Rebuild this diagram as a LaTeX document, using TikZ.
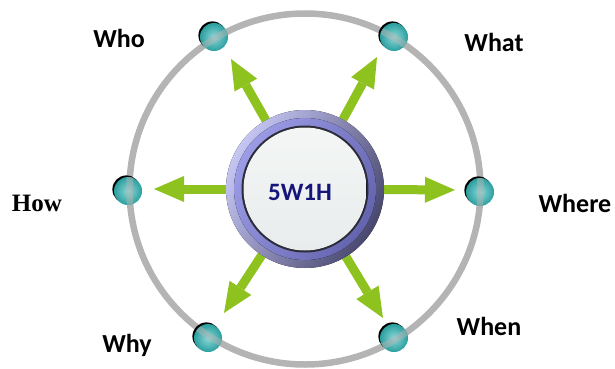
\documentclass[tikz,border=0pt]{standalone}
\usepackage{fontspec}
\setmainfont{Carlito}
\newfontfamily\serifbold{Liberation Serif}
\usetikzlibrary{arrows.meta}
\definecolor{arrowgreen}{HTML}{8DC21F}
\definecolor{ringgray}{HTML}{B4B4B4}
\definecolor{dotlight}{HTML}{8ED8D8}
\definecolor{dotdark}{HTML}{2A9E9E}
\definecolor{knoblight}{HTML}{C6C6F4}
\definecolor{knobdark}{HTML}{48486F}
\definecolor{bandlight}{HTML}{9C9CE6}
\definecolor{banddark}{HTML}{6464AE}
\definecolor{rimdark}{HTML}{2B2B3A}
\definecolor{navytext}{HTML}{16167A}
\definecolor{btntop}{HTML}{F4F6F6}
\definecolor{btnmid}{HTML}{DADFDF}
\definecolor{btnbot}{HTML}{E9ECEC}
\tikzset{
  knobnode/.style={circle, inner sep=0pt, minimum size=158pt},
  dotnode/.style={circle, inner sep=0pt, minimum size=28pt,
    inner color=dotlight, outer color=dotdark,
    preaction={fill=black, transform canvas={shift={(-1.6pt,1.6pt)}}}},
  garrow/.style={arrowgreen, line width=9pt,
    -{Triangle[width=26pt,length=30pt,line width=0pt]}},
  lbl/.style={anchor=base, inner sep=0pt, font=\fontsize{26}{26}\selectfont\bfseries},
}
\begin{document}
\begin{tikzpicture}[x=1pt,y=-1pt]
\useasboundingbox (0,0) rectangle (615,369);
\coordinate (o) at (305,189);
% big gray ring
\draw[ringgray, line width=6.5pt] (o) circle (175.5pt);
% invisible knob node
\node[knobnode] (c) at (o) {};
% dots
\node[dotnode] (dwho) at (214,37) {};
\node[dotnode] (dwhat) at (394,37) {};
\node[dotnode] (dhow) at (128,191) {};
\node[dotnode] (dwhere) at (480,192) {};
\node[dotnode] (dwhy) at (208,338) {};
\node[dotnode] (dwhen) at (394,338) {};
% ring seen through dots
\begin{scope}
\clip (dwho) circle (14pt) (dwhat) circle (14pt) (dhow) circle (14pt)
      (dwhere) circle (14pt) (dwhy) circle (14pt) (dwhen) circle (14pt);
\draw[ringgray, opacity=0.5, line width=6.5pt] (o) circle (175.5pt);
\end{scope}
% arrow tips
\coordinate (twho) at (231,59);
\coordinate (twhat) at (377,57);
\coordinate (thow) at (154,189);
\coordinate (twhere) at (455,190);
\coordinate (twhy) at (224,313);
\coordinate (twhen) at (383,318);
\draw[garrow] (c) -- (twho);
\draw[garrow] (c) -- (twhat);
\draw[garrow] (c) -- (thow);
\draw[garrow] (c) -- (twhere);
\draw[garrow] (c) -- (twhy);
\draw[garrow] (c) -- (twhen);
% knob
\fill[top color=knoblight, bottom color=knobdark, shading angle=60] (c.center) circle (79pt);
\fill[top color=bandlight, bottom color=banddark, shading angle=60] (c.center) circle (71pt);
\fill[rimdark] (c.center) circle (63.5pt);
\fill[top color=btntop, middle color=btnmid, bottom color=btnbot] (c.center) circle (61.5pt);
\node[anchor=base, inner sep=0pt, text=navytext, font=\fontsize{25}{25}\selectfont\bfseries] (title) at (300,200) {5W1H};
% labels
\node[lbl] (lwho) at (119,48) {Who};
\node[lbl] (lwhat) at (494,52) {What};
\node[lbl, font=\fontsize{25}{25}\serifbold\bfseries] (lhow) at (37,211) {How};
\node[lbl] (lwhere) at (575,212) {Where};
\node[lbl] (lwhy) at (127,352) {Why};
\node[lbl] (lwhen) at (489,335) {When};
\end{tikzpicture}
\end{document}
